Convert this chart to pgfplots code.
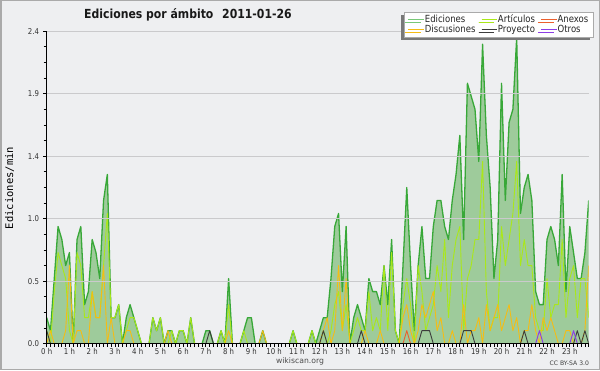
\documentclass[border=0pt]{standalone}
\usepackage{fontspec}
\usepackage{pgfplots}
\pgfplotsset{compat=1.18}
\usepackage{pgfplotstable}
\usetikzlibrary{shadows}
\setmainfont{DejaVu Sans}[FakeStretch=0.87]
\newfontfamily\plainfont{DejaVu Sans}
\newfontfamily\monofont{DejaVu Sans Mono}

\definecolor{bg}{RGB}{238,239,241}
\definecolor{border}{RGB}{170,170,170}
\definecolor{gridc}{RGB}{202,202,204}
\definecolor{edline}{RGB}{56,168,56}
\definecolor{edfill}{RGB}{158,203,155}
\definecolor{edleg}{RGB}{120,200,120}
\definecolor{artc}{RGB}{170,232,25}
\definecolor{disc}{RGB}{245,188,20}
\definecolor{anxc}{RGB}{235,95,45}
\definecolor{proc}{RGB}{60,60,60}
\definecolor{otrc}{RGB}{140,60,230}
\definecolor{shadowc}{RGB}{120,120,120}
\definecolor{ticktext}{RGB}{50,50,50}

\pgfplotstableread{
i ed art dis anx pro otr
0 0.2 0.1 0 0 0.1 0
1 0.1 0 0.1 0 0 0
2 0.5 0.4 0 0 0 0
3 0.9 0.7 0 0 0 0
4 0.8 0.6 0 0 0 0
5 0.6 0.5 0.1 0 0 0
6 0.7 0.1 0.6 0 0 0
7 0 0 0 0 0 0
8 0.8 0.7 0.1 0 0 0
9 0.9 0.6 0.1 0 0 0
10 0.3 0.2 0 0 0 0
11 0.4 0.2 0 0 0 0
12 0.8 0.4 0.4 0 0 0
13 0.7 0.2 0.2 0 0 0
14 0.5 0.2 0.2 0 0 0
15 1.1 0.6 0.6 0 0 0
16 1.3 1.0 0 0 0 0
17 0.2 0.2 0.2 0 0 0
18 0.2 0.2 0 0 0 0
19 0.3 0.3 0 0 0 0
20 0 0 0 0 0 0
21 0.2 0.1 0.1 0 0 0
22 0.3 0.2 0.1 0 0 0
23 0.2 0.2 0 0 0 0
24 0.1 0.1 0 0 0 0
25 0 0 0 0 0 0
26 0 0 0 0 0 0
27 0 0 0 0 0 0
28 0.2 0.2 0 0 0 0
29 0.1 0.1 0 0 0 0
30 0.2 0.2 0 0 0 0
31 0 0 0 0 0 0
32 0.1 0 0.1 0 0 0
33 0.1 0.1 0 0 0 0
34 0 0 0 0 0 0
35 0.1 0.1 0 0 0 0
36 0.1 0.1 0 0 0 0
37 0 0 0 0 0 0
38 0.2 0.2 0 0 0 0
39 0 0 0 0 0 0
40 0 0 0 0 0 0
41 0 0 0 0 0 0
42 0.1 0 0 0 0 0
43 0.1 0 0 0 0.1 0
44 0 0 0 0 0 0
45 0 0 0 0 0 0
46 0.1 0.1 0 0 0 0
47 0 0 0 0 0 0
48 0.5 0.3 0.1 0 0 0
49 0 0 0 0 0 0
50 0 0 0 0 0 0
51 0 0 0 0 0 0
52 0.1 0.1 0 0 0 0
53 0.2 0 0 0 0 0
54 0.2 0 0 0 0 0
55 0 0 0 0 0 0
56 0 0 0 0 0 0
57 0.1 0 0.1 0 0 0
58 0 0 0 0 0 0
59 0 0 0 0 0 0
60 0 0 0 0 0 0
61 0 0 0 0 0 0
62 0 0 0 0 0 0
63 0 0 0 0 0 0
64 0 0 0 0 0 0
65 0.1 0.1 0 0 0 0
66 0 0 0 0 0 0
67 0 0 0 0 0 0
68 0 0 0 0 0 0
69 0 0 0 0 0 0
70 0.1 0.1 0 0 0 0
71 0 0 0 0 0 0
72 0.1 0 0 0 0 0
73 0.2 0.1 0.1 0 0.1 0
74 0.2 0 0.2 0 0 0
75 0.5 0.1 0 0 0 0
76 0.9 0.3 0.1 0 0 0
77 1.0 0.4 0.6 0 0 0
78 0.4 0.1 0.1 0 0 0
79 0.9 0.3 0.5 0 0 0
80 0 0 0 0 0 0
81 0.2 0.1 0 0 0 0
82 0.3 0.2 0 0 0 0
83 0.2 0.1 0 0 0.1 0
84 0.1 0.1 0.1 0 0 0
85 0.5 0.4 0 0 0 0
86 0.4 0.1 0 0 0 0
87 0.4 0.2 0 0 0 0
88 0.3 0.1 0.1 0 0 0
89 0.6 0.6 0 0 0 0
90 0.3 0.1 0 0 0 0
91 0.8 0.7 0 0 0 0
92 0.1 0.1 0 0 0 0
93 0 0 0 0 0 0
94 0.6 0.3 0.2 0 0 0
95 1.2 0.5 0.3 0.1 0 0
96 0.6 0.3 0.1 0 0 0
97 0.1 0 0 0 0 0
98 0.6 0.6 0.1 0 0 0
99 0.9 0.4 0.3 0 0.1 0
100 0.5 0.1 0.2 0 0.1 0
101 0.5 0.2 0.3 0 0.1 0
102 0.9 0.3 0.4 0 0 0
103 1.1 0.6 0.1 0 0 0
104 1.1 0.4 0.2 0 0 0
105 0.9 0.8 0 0 0 0
106 0.8 0.2 0 0 0 0
107 1.1 0.6 0.1 0 0 0
108 1.3 0.8 0 0 0 0
109 1.6 0.9 0 0 0 0
110 0.8 0.1 0.3 0 0.1 0
111 2.0 0.5 0 0 0.1 0
112 1.9 0.6 0.1 0 0.1 0
113 1.8 0.8 0.1 0 0 0
114 1.4 0.8 0.2 0 0 0
115 2.3 1.4 0 0 0 0
116 1.6 0.4 0.3 0 0 0
117 1.2 0.1 0.1 0 0 0
118 0.5 0.2 0.2 0 0 0
119 0.8 0.2 0.3 0 0 0
120 2.0 0.9 0.1 0 0 0
121 1.1 0.6 0.2 0 0 0
122 1.7 0.8 0.3 0 0 0
123 1.8 1.0 0.1 0 0 0
124 2.35 1.4 0.2 0 0 0
125 1.0 0.6 0 0 0 0
126 1.2 0.8 0.1 0 0.1 0
127 1.3 0.6 0.1 0 0 0
128 1.1 0.6 0.3 0 0 0
129 0.4 0.2 0.1 0 0 0
130 0.3 0.1 0 0 0 0.1
131 0.3 0.1 0.2 0 0 0
132 0.8 0.5 0.1 0 0 0
133 0.9 0.2 0.2 0 0 0
134 0.8 0.3 0.1 0 0 0
135 0.6 0.3 0 0 0 0
136 1.3 0.8 0 0 0 0
137 0.4 0.2 0.1 0 0 0
138 0.9 0.5 0.1 0 0 0
139 0.7 0.6 0 0 0 0.1
140 0.5 0.2 0 0 0.1 0
141 0.5 0.5 0 0 0 0
142 0.7 0.5 0.1 0 0.1 0
143 1.1 0.2 0.6 0 0 0
}\data

\begin{document}
\begin{tikzpicture}[x=1pt,y=1pt]
\useasboundingbox (0,0) rectangle (600,370);
\fill[bg] (0,0) rectangle (600,370);
\draw[border, line width=1.5pt] (0.75,0.75) rectangle (599.25,369.25);
\begin{axis}[
  at={(46.7pt,26.3pt)}, anchor=south west,
  scale only axis, width=542pt, height=312.5pt,
  xmin=0, xmax=143, ymin=0, ymax=2.4,
  axis lines*=left,
  axis line style={black, line width=1pt},
  axis on top,
  clip=true,
  xtick={0,6,...,138},
  xticklabels={0 h,1 h,2 h,3 h,4 h,5 h,6 h,7 h,8 h,9 h,10 h,11 h,12 h,13 h,14 h,15 h,16 h,17 h,18 h,19 h,20 h,21 h,22 h,23 h},
  minor xtick={0,1,...,143},
  ytick={0,0.48,0.96,1.44,1.92,2.4},
  yticklabels={0.0,0.5,1.0,1.4,1.9,2.4},
  minor ytick={0.12,0.24,0.36,0.6,0.72,0.84,1.08,1.2,1.32,1.56,1.68,1.8,2.04,2.16,2.28},
  ymajorgrids,
  major grid style={gridc, line width=0.8pt},
  tick align=outside,
  major tick length=3.5pt, minor tick length=3pt,
  every tick/.style={black, line width=0.8pt},
  tick label style={font=\fontsize{8}{9}\selectfont, text=ticktext},
  xticklabel style={anchor=north, inner sep=0pt, yshift=-1pt},
  yticklabel style={anchor=east, inner sep=0pt, xshift=-4pt},
  legend columns=3,
  legend cell align=left,
  legend style={at={(1,1)}, anchor=north east, xshift=4.6pt, yshift=19.5pt,
    fill=white, draw=border, line width=0.6pt,
    drop shadow={shadow xshift=-3pt, shadow yshift=-3pt, fill=shadowc, opacity=1},
    font=\fontsize{9.8}{10}\selectfont, text=black!85,
    inner xsep=4pt, inner ysep=2.5pt, column sep=0pt, row sep=0pt,
    nodes={inner sep=0.6pt, text height=7pt, text depth=2pt},
    /tikz/every even column/.append style={column sep=5pt}},
  legend image code/.code={\draw[#1, line width=1pt] (0pt,0pt) -- (11pt,0pt); \path (0pt,0pt) -- (15.5pt,0pt);},
]
\addlegendimage{edleg}
\addlegendentry{Ediciones}
\addlegendimage{artc}
\addlegendentry{Artículos}
\addlegendimage{anxc}
\addlegendentry{Anexos}
\addlegendimage{disc}
\addlegendentry{Discusiones}
\addlegendimage{proc}
\addlegendentry{Proyecto}
\addlegendimage{otrc}
\addlegendentry{Otros}

\addplot[draw=none, fill=edfill, forget plot] table[x=i, y=ed]{\data} \closedcycle;
\addplot[edline, line width=1.3pt, line join=round, forget plot] table[x=i, y=ed]{\data};
\addplot[artc, line width=0.9pt, line join=round, forget plot] table[x=i, y=art]{\data};
\addplot[disc, line width=0.9pt, line join=round, forget plot] table[x=i, y=dis]{\data};
\addplot[anxc, line width=0.9pt, line join=round, forget plot] table[x=i, y=anx]{\data};
\addplot[proc, line width=0.9pt, line join=round, forget plot] table[x=i, y=pro]{\data};
\addplot[otrc, line width=0.9pt, line join=round, forget plot] table[x=i, y=otr]{\data};
\end{axis}
\node[font=\bfseries\fontsize{12.5}{14}\selectfont, text=black!90] at (188,355.5) {Ediciones por ámbito\hspace{0.7em}2011-01-26};
\node[rotate=90, font=\monofont\fontsize{10.5}{12}\selectfont, text=black] at (9.5,182) {Ediciones/min};
\node[font=\plainfont\fontsize{7.7}{9}\selectfont, text=black!70] at (300,9) {wikiscan.org};
\node[font=\plainfont\fontsize{6.1}{7}\selectfont, text=black!75] at (569.3,6.5) {CC BY-SA 3.0};
\end{tikzpicture}
\end{document}
